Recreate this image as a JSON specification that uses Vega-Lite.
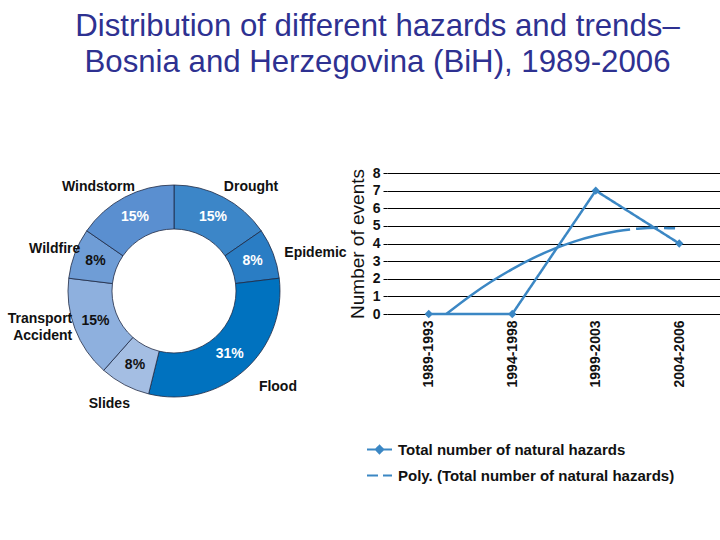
{
  "$schema": "https://vega.github.io/schema/vega-lite/v6.json",
  "background": "white",
  "padding": {"left": 0, "top": 10, "right": 0, "bottom": 0},
  "config": {"view": {"stroke": null}, "font": "Liberation Sans"},
  "title": {
    "text": ["Distribution of different hazards and trends–", "Bosnia and Herzegovina (BiH), 1989-2006"],
    "font": "Liberation Sans", "fontSize": 31.2, "lineHeight": 36, "fontWeight": "normal",
    "color": "#2e3191", "anchor": "middle", "dx": 17, "offset": 88
  },
  "datasets": {
    "shares": [
      {"hazard": "Drought", "count": 2, "share": 0.154},
      {"hazard": "Epidemic", "count": 1, "share": 0.077},
      {"hazard": "Flood", "count": 4, "share": 0.308},
      {"hazard": "Slides", "count": 1, "share": 0.077},
      {"hazard": "Transport\nAccident", "count": 2, "share": 0.154},
      {"hazard": "Wildfire", "count": 1, "share": 0.077},
      {"hazard": "Windstorm", "count": 2, "share": 0.154}
    ],
    "events": [
      {"series": "Total number of natural hazards", "pos": 1, "period": "1989-1993", "events": 0},
      {"series": "Total number of natural hazards", "pos": 2, "period": "1994-1998", "events": 0},
      {"series": "Total number of natural hazards", "pos": 3, "period": "1999-2003", "events": 7},
      {"series": "Total number of natural hazards", "pos": 4, "period": "2004-2006", "events": 4},
      {"series": "Poly. (Total number of natural hazards)", "pos": 1.21, "events": 0},
      {"series": "Poly. (Total number of natural hazards)", "pos": 1.5, "events": 1.04},
      {"series": "Poly. (Total number of natural hazards)", "pos": 1.75, "events": 1.84},
      {"series": "Poly. (Total number of natural hazards)", "pos": 2, "events": 2.55},
      {"series": "Poly. (Total number of natural hazards)", "pos": 2.25, "events": 3.17},
      {"series": "Poly. (Total number of natural hazards)", "pos": 2.5, "events": 3.69},
      {"series": "Poly. (Total number of natural hazards)", "pos": 2.75, "events": 4.12},
      {"series": "Poly. (Total number of natural hazards)", "pos": 3, "events": 4.45},
      {"series": "Poly. (Total number of natural hazards)", "pos": 3.25, "events": 4.69},
      {"series": "Poly. (Total number of natural hazards)", "pos": 3.5, "events": 4.84},
      {"series": "Poly. (Total number of natural hazards)", "pos": 3.75, "events": 4.89},
      {"series": "Poly. (Total number of natural hazards)", "pos": 3.95, "events": 4.86}
    ]
  },
  "spacing": 0,
  "hconcat": [
    {
      "width": 348,
      "height": 236,
      "data": {"name": "shares"},
      "encoding": {
        "theta": {"field": "count", "type": "quantitative", "stack": true},
        "order": {"field": "hazard", "type": "nominal", "sort": "ascending"}
      },
      "layer": [
        {
          "mark": {"type": "arc", "innerRadius": 62, "outerRadius": 106, "stroke": "#1f2a44", "strokeWidth": 0.8},
          "encoding": {
            "color": {
              "field": "hazard", "type": "nominal", "legend": null,
              "scale": {
                "domain": ["Drought", "Epidemic", "Flood", "Slides", "Transport\nAccident", "Wildfire", "Windstorm"],
                "range": ["#3c86c8", "#2a7dc4", "#0072bf", "#a4bee3", "#8eb0de", "#6f9dd6", "#5a8fd0"]
              }
            }
          }
        },
        {
          "mark": {"type": "text", "radius": 84, "fontSize": 14, "fontWeight": "bold", "font": "Liberation Sans", "align": "center", "baseline": "middle"},
          "encoding": {
            "detail": {"field": "hazard", "type": "nominal"},
            "text": {"field": "share", "type": "quantitative", "format": ".0%"},
            "color": {
              "condition": {"test": "datum.hazard == 'Slides' || datum.hazard == 'Wildfire' || datum.hazard == 'Transport\\nAccident'", "value": "#111111"},
              "value": "white"
            }
          }
        },
        {
          "mark": {"type": "text", "radius": 118, "dx": -5, "fontSize": 14, "fontWeight": "bold", "font": "Liberation Sans", "align": "left", "baseline": "middle", "color": "#111111"},
          "encoding": {
            "detail": {"field": "hazard", "type": "nominal"},
            "text": {"condition": {"test": "datum.hazard == 'Drought'", "field": "hazard", "type": "nominal"}, "value": ""}
          }
        },
        {
          "mark": {"type": "text", "radius": 118, "dy": 4, "fontSize": 14, "fontWeight": "bold", "font": "Liberation Sans", "align": "left", "baseline": "middle", "color": "#111111"},
          "encoding": {
            "detail": {"field": "hazard", "type": "nominal"},
            "text": {"condition": {"test": "datum.hazard == 'Epidemic'", "field": "hazard", "type": "nominal"}, "value": ""}
          }
        },
        {
          "mark": {"type": "text", "radius": 128, "fontSize": 14, "fontWeight": "bold", "font": "Liberation Sans", "align": "left", "baseline": "middle", "color": "#111111"},
          "encoding": {
            "detail": {"field": "hazard", "type": "nominal"},
            "text": {"condition": {"test": "datum.hazard == 'Flood'", "field": "hazard", "type": "nominal"}, "value": ""}
          }
        },
        {
          "mark": {"type": "text", "radius": 112, "dx": 13, "dy": -5, "fontSize": 14, "fontWeight": "bold", "font": "Liberation Sans", "align": "right", "baseline": "middle", "color": "#111111"},
          "encoding": {
            "detail": {"field": "hazard", "type": "nominal"},
            "text": {"condition": {"test": "datum.hazard == 'Windstorm'", "field": "hazard", "type": "nominal"}, "value": ""}
          }
        },
        {
          "mark": {"type": "text", "radius": 112, "dx": 11, "dy": -2, "fontSize": 14, "fontWeight": "bold", "font": "Liberation Sans", "align": "right", "baseline": "middle", "color": "#111111"},
          "encoding": {
            "detail": {"field": "hazard", "type": "nominal"},
            "text": {"condition": {"test": "datum.hazard == 'Wildfire'", "field": "hazard", "type": "nominal"}, "value": ""}
          }
        },
        {
          "mark": {"type": "text", "radius": 112, "dx": 3, "dy": -12, "fontSize": 14, "fontWeight": "bold", "font": "Liberation Sans", "align": "right", "baseline": "middle", "color": "#111111", "lineBreak": "\n", "lineHeight": 17},
          "encoding": {
            "detail": {"field": "hazard", "type": "nominal"},
            "text": {"condition": {"test": "datum.hazard == 'Transport\\nAccident'", "field": "hazard", "type": "nominal"}, "value": ""}
          }
        },
        {
          "mark": {"type": "text", "radius": 122, "dx": -8, "dy": 5, "fontSize": 14, "fontWeight": "bold", "font": "Liberation Sans", "align": "center", "baseline": "middle", "color": "#111111"},
          "encoding": {
            "detail": {"field": "hazard", "type": "nominal"},
            "text": {"condition": {"test": "datum.hazard == 'Slides'", "field": "hazard", "type": "nominal"}, "value": ""}
          }
        }
      ]
    },
    {
      "width": 334,
      "height": 141,
      "data": {"name": "events"},
      "encoding": {
        "x": {
          "field": "pos", "type": "quantitative",
          "scale": {"domain": [0.5, 4.5], "nice": false, "zero": false},
          "axis": {
            "title": null, "values": [1, 2, 3, 4], "grid": false, "ticks": false, "domain": false,
            "labelAngle": -90, "labelFontSize": 14, "labelFontWeight": "bold", "labelColor": "#111111",
            "labelPadding": 6, "labelFont": "Liberation Sans",
            "labelExpr": "datum.value == 1 ? '1989-1993' : datum.value == 2 ? '1994-1998' : datum.value == 3 ? '1999-2003' : '2004-2006'"
          }
        },
        "y": {
          "field": "events", "type": "quantitative",
          "scale": {"domain": [0, 8], "nice": false},
          "axis": {
            "title": "Number of events", "titleFontSize": 19, "titleFontWeight": "normal", "titleColor": "#111111",
            "titleFont": "Liberation Sans", "titlePadding": 5,
            "values": [0, 1, 2, 3, 4, 5, 6, 7, 8], "grid": true, "gridColor": "#000000", "gridWidth": 1, "gridOpacity": 1,
            "domain": false, "ticks": true, "tickSize": 4, "tickColor": "#000000",
            "labelFontSize": 14, "labelFontWeight": "bold", "labelColor": "#111111", "labelPadding": 3, "labelFont": "Liberation Sans"
          }
        },
        "strokeDash": {
          "field": "series", "type": "nominal",
          "scale": {
            "domain": ["Total number of natural hazards", "Poly. (Total number of natural hazards)"],
            "range": [[1, 0], [205, 6, 22, 6, 40, 6]]
          },
          "legend": {
            "orient": "none", "legendX": 366, "legendY": 263, "title": null,
            "symbolType": "stroke", "symbolSize": 625, "symbolStrokeWidth": 2, "symbolStrokeColor": "#3b87c4",
            "labelFontSize": 15, "labelFont": "Liberation Sans", "labelFontWeight": "bold", "labelColor": "#111111",
            "labelOffset": 5, "rowPadding": 4, "labelLimit": 400,
            "encode": {
              "symbols": {
                "update": {
                  "shape": {"signal": "datum.value == 'Total number of natural hazards' ? 'M-1,0L1,0M0,-0.3L0.3,0L0,0.3L-0.3,0Z' : 'M-1,0L-0.12,0M0.28,0L1,0'"},
                  "fill": {"value": "#3b87c4"},
                  "stroke": {"value": "#3b87c4"},
                  "strokeWidth": {"value": 2}
                }
              }
            }
          }
        }
      },
      "layer": [
        {
          "transform": [{"filter": "datum.series == 'Total number of natural hazards'"}],
          "mark": {"type": "line", "color": "#3b87c4", "strokeWidth": 2.5, "interpolate": "linear"}
        },
        {
          "transform": [{"filter": "datum.series != 'Total number of natural hazards'"}],
          "mark": {"type": "line", "color": "#3b87c4", "strokeWidth": 2.5, "interpolate": "monotone"}
        },
        {
          "transform": [{"filter": "datum.series == 'Total number of natural hazards'"}],
          "mark": {"type": "point", "shape": "diamond", "filled": true, "size": 70, "color": "#3b87c4", "opacity": 1},
          "encoding": {"strokeDash": {"value": [1, 0]}}
        }
      ]
    }
  ]
}
